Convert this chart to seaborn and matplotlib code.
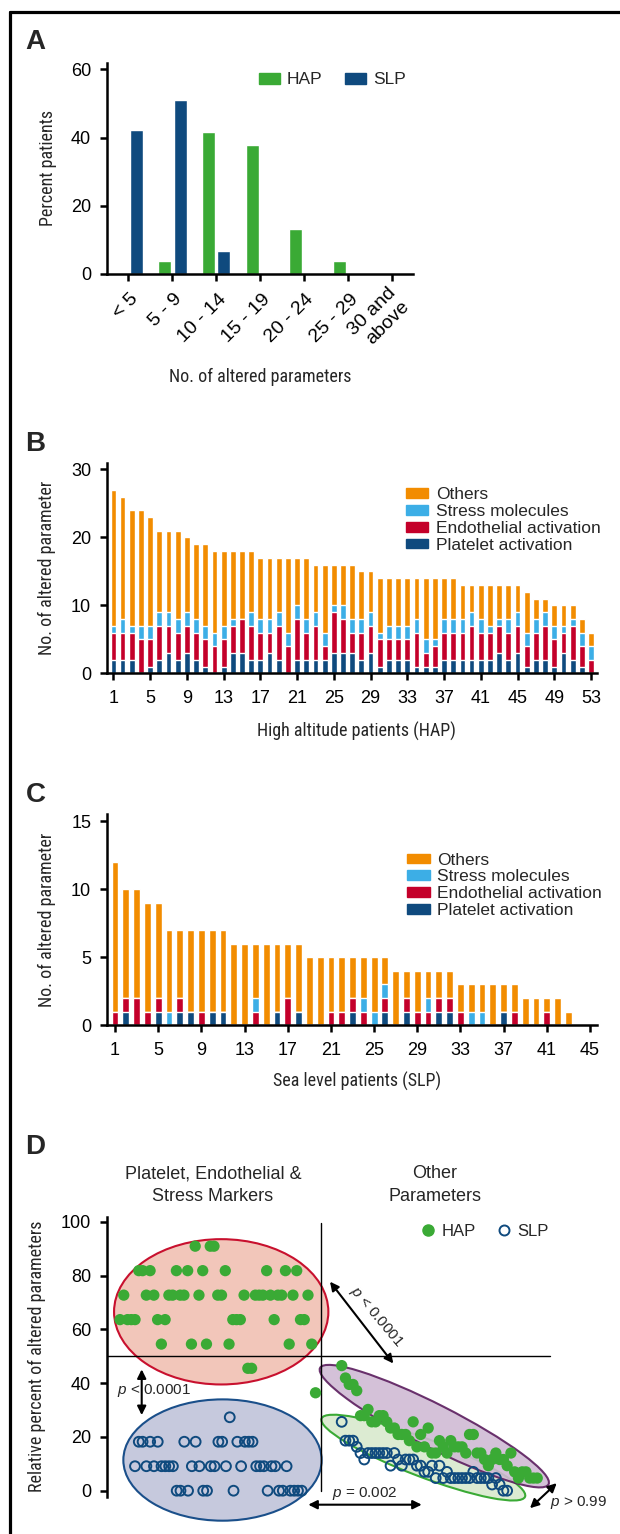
import numpy as np
import pandas as pd
import matplotlib
matplotlib.use("Agg")
import matplotlib.pyplot as plt
import matplotlib.transforms as mtransforms
from matplotlib import font_manager as fm
from matplotlib.patches import Patch, Ellipse
from matplotlib.lines import Line2D
import seaborn as sns

# ---------------- Panel A data ----------------
range_labels = ["< 5", "5 - 9", "10 - 14", "15 - 19", "20 - 24", "25 - 29", "30 and\nabove"]
hap_pct = [0.0, 3.8, 41.5, 37.7, 13.2, 3.8, 0.0]
slp_pct = [42.2, 51.1, 6.7, 0.0, 0.0, 0.0, 0.0]

# ---------------- Panel B data (53 high altitude patients) ----------------
hap_platelet = [2, 2, 2, 0, 1, 2, 3, 2, 3, 2, 1, 0, 1, 3, 3, 2, 2, 3, 2, 0,
                2, 2, 2, 2, 3, 3, 3, 2, 3, 1, 2, 2, 2, 1, 1, 1, 2, 2, 2, 2,
                2, 2, 3, 2, 3, 1, 2, 2, 1, 3, 2, 1, 0]
hap_endothelial = [4, 4, 4, 5, 4, 5, 4, 4, 4, 4, 4, 4, 4, 4, 5, 5, 4, 3, 5, 4,
                   6, 4, 5, 2, 6, 5, 3, 4, 4, 4, 3, 3, 3, 5, 2, 3, 4, 4, 4, 5,
                   4, 4, 4, 4, 4, 3, 4, 5, 4, 3, 5, 3, 2]
hap_stress = [1, 2, 1, 2, 2, 2, 2, 2, 2, 2, 2, 2, 2, 1, 0, 2, 2, 2, 2, 2,
              2, 2, 2, 2, 1, 2, 2, 2, 2, 1, 2, 2, 2, 2, 2, 1, 2, 2, 2, 2,
              2, 1, 1, 2, 2, 2, 2, 2, 2, 1, 1, 2, 2]
hap_others = [20, 18, 17, 17, 16, 12, 12, 13, 11, 11, 12, 12, 11, 10, 10, 9, 9, 9, 8, 11,
              7, 9, 7, 10, 6, 6, 8, 7, 6, 8, 7, 7, 7, 6, 9, 9, 6, 6, 5, 4,
              5, 6, 5, 5, 4, 6, 3, 2, 3, 3, 2, 2, 2]

# ---------------- Panel C data (sea level patients, 43 with altered values) ----------------
slp_platelet = [0, 1, 0, 0, 1, 0, 1, 1, 0, 1, 1, 0, 0, 0, 0, 1, 0, 1, 0, 0,
                0, 0, 1, 0, 0, 1, 0, 1, 0, 0, 1, 1, 0, 0, 0, 0, 1, 0, 0, 0,
                0, 0, 0]
slp_endothelial = [1, 1, 2, 1, 1, 0, 1, 0, 1, 0, 0, 0, 0, 1, 0, 0, 2, 0, 0, 0,
                   1, 1, 1, 1, 0, 1, 0, 1, 1, 1, 1, 1, 1, 0, 0, 0, 0, 1, 0, 0,
                   1, 0, 0]
slp_stress = [0, 0, 0, 0, 0, 1, 0, 0, 0, 0, 0, 0, 0, 1, 0, 0, 0, 0, 0, 0,
              0, 0, 0, 1, 1, 1, 0, 0, 0, 1, 0, 0, 0, 1, 1, 0, 0, 0, 0, 0,
              0, 0, 0]
slp_others = [11, 8, 8, 8, 7, 6, 5, 6, 6, 6, 6, 6, 6, 4, 6, 5, 4, 5, 5, 5,
              4, 4, 3, 3, 4, 2, 4, 2, 3, 2, 2, 2, 2, 2, 2, 3, 2, 2, 2, 2,
              1, 2, 1]

# ---------------- Panel D data (relative percent) ----------------
hap_marker_pct = [63.6, 72.7, 63.6, 63.6, 63.6, 81.8, 81.8, 72.7, 81.8, 72.7,
                  63.6, 54.5, 63.6, 72.7, 72.7, 81.8, 72.7, 72.7, 81.8, 54.5,
                  90.9, 72.7, 81.8, 54.5, 90.9, 90.9, 72.7, 72.7, 81.8, 54.5,
                  63.6, 63.6, 63.6, 72.7, 45.5, 45.5, 72.7, 72.7, 72.7, 81.8,
                  72.7, 63.6, 72.7, 72.7, 81.8, 54.5, 72.7, 81.8, 63.6, 63.6,
                  72.7, 54.5, 36.4]
hap_other_pct = [46.5, 41.9, 39.5, 39.5, 37.2, 27.9, 27.9, 30.2, 25.6, 25.6,
                 27.9, 27.9, 25.6, 23.3, 23.3, 20.9, 20.9, 20.9, 18.6, 25.6,
                 16.3, 20.9, 16.3, 23.3, 14.0, 14.0, 18.6, 16.3, 14.0, 18.6,
                 16.3, 16.3, 16.3, 14.0, 20.9, 20.9, 14.0, 14.0, 11.6, 9.3,
                 11.6, 14.0, 11.6, 11.6, 9.3, 14.0, 7.0, 4.7, 7.0, 7.0,
                 4.7, 4.7, 4.7]
slp_marker_pct = [9.1, 18.2, 18.2, 9.1, 18.2, 9.1, 18.2, 9.1, 9.1, 9.1,
                  9.1, 0.0, 0.0, 18.2, 0.0, 9.1, 18.2, 9.1, 0.0, 0.0,
                  9.1, 9.1, 18.2, 18.2, 9.1, 27.3, 0.0, 18.2, 9.1, 18.2,
                  18.2, 18.2, 9.1, 9.1, 9.1, 0.0, 9.1, 9.1, 0.0, 0.0,
                  9.1, 0.0, 0.0, 0.0, 0.0]
slp_other_pct = [25.6, 18.6, 18.6, 18.6, 16.3, 14.0, 11.6, 14.0, 14.0, 14.0,
                 14.0, 14.0, 14.0, 9.3, 14.0, 11.6, 9.3, 11.6, 11.6, 11.6,
                 9.3, 9.3, 7.0, 7.0, 9.3, 4.7, 9.3, 4.7, 7.0, 4.7,
                 4.7, 4.7, 4.7, 4.7, 4.7, 7.0, 4.7, 4.7, 4.7, 4.7,
                 2.3, 4.7, 2.3, 0.0, 0.0]

# ---------------- style ----------------
GREEN = "#3aaa35"
NAVY = "#0f4a7e"
ORANGE = "#f28c00"
LBLUE = "#3caee6"
RED = "#c4002a"

sns.set_style("ticks")
plt.rcParams["font.family"] = ["Liberation Sans", "DejaVu Sans"]
plt.rcParams["mathtext.fontset"] = "custom"
plt.rcParams["mathtext.rm"] = "Liberation Sans"
plt.rcParams["mathtext.it"] = "Liberation Sans:italic"
plt.rcParams["axes.linewidth"] = 1.8
plt.rcParams["axes.edgecolor"] = "black"
for a in ("xtick", "ytick"):
    plt.rcParams[f"{a}.major.size"] = 5.2
    plt.rcParams[f"{a}.major.width"] = 1.8
    plt.rcParams[f"{a}.major.pad"] = 6
    plt.rcParams[f"{a}.labelsize"] = 13
    plt.rcParams[f"{a}.color"] = "black"
    plt.rcParams[f"{a}.direction"] = "out"

# condensed font for axis titles, if one is installed
_names = {f.name for f in fm.fontManager.ttflist}
if "Liberation Sans Narrow" in _names:
    NARROW, LABEL_FS = ["Liberation Sans Narrow", "Liberation Sans"], 14
elif "Roboto Condensed" in _names:
    NARROW, LABEL_FS = ["Roboto Condensed", "Liberation Sans"], 13
else:
    NARROW, LABEL_FS = ["Liberation Sans", "DejaVu Sans"], 11.5

W, H = 620, 1534
fig = plt.figure(figsize=(W / 100, H / 100), dpi=100)


def box(l, t, r, b):
    return [l / W, 1 - b / H, (r - l) / W, (b - t) / H]


def fx(px):
    return px / W


def fy(py):
    return 1 - py / H


# frame
fig.add_artist(Line2D([fx(10), fx(10)], [0, fy(11.7)], transform=fig.transFigure, color="black", lw=2.3))
fig.add_artist(Line2D([fx(10), 1], [fy(11.7), fy(11.7)], transform=fig.transFigure, color="black", lw=2.3))

# panel letters
for letter, py in (("A", 41.7), ("B", 443.8), ("C", 795.3), ("D", 1147.5)):
    fig.text(fx(25.5), fy(py), letter, fontsize=20, fontweight="bold", ha="left", va="center")

# ================= Panel A =================
axA = fig.add_axes(box(106.7, 62.6, 413.2, 274))
dfA = pd.DataFrame({"range": range_labels * 2,
                    "group": ["HAP"] * len(range_labels) + ["SLP"] * len(range_labels),
                    "pct": hap_pct + slp_pct})
sns.barplot(data=dfA, x="range", y="pct", hue="group", order=range_labels,
            hue_order=["HAP", "SLP"], palette={"HAP": GREEN, "SLP": NAVY},
            width=0.72, gap=0.18, errorbar=None, saturation=1, legend=False, ax=axA)
axA.set_xlim(-0.49, 6.49)
axA.set_ylim(0, 62)
axA.set_yticks([0, 20, 40, 60])
axA.set_xticks(range(len(range_labels)))
axA.set_xticklabels(range_labels, rotation=45, ha="right", va="center_baseline",
                    rotation_mode="anchor", fontsize=14)
axA.tick_params(axis="x", pad=10)
_shift = mtransforms.ScaledTranslation(0.06, 0, fig.dpi_scale_trans)
for lab in axA.get_xticklabels():
    lab.set_transform(lab.get_transform() + _shift)
axA.set_ylabel("Percent patients", family=NARROW, fontsize=LABEL_FS, va="center")
axA.yaxis.set_label_coords((48.4 - 106.7) / (413.2 - 106.7), 0.5)
axA.set_xlabel("No. of altered parameters", family=NARROW, fontsize=LABEL_FS, va="center")
axA.xaxis.set_label_coords(0.5, -(377 - 274) / (274 - 62.6))
sns.despine(ax=axA)
fig.legend(handles=[Patch(color=GREEN), Patch(color=NAVY)], labels=["HAP", "SLP"],
           loc="center left", bbox_to_anchor=(fx(259), fy(80)), ncol=2, frameon=False,
           fontsize=12.5, handlelength=1.21, handleheight=0.54, handletextpad=0.38,
           columnspacing=1.32, borderpad=0, borderaxespad=0)


def stacked(ax, idx, plat, endo, stress, others):
    plat = np.asarray(plat)
    endo = np.asarray(endo)
    stress = np.asarray(stress)
    others = np.asarray(others)
    levels = [plat + endo + stress + others, plat + endo + stress, plat + endo, plat]
    colors = [ORANGE, LBLUE, RED, NAVY]
    for lv, c in zip(levels, colors):
        sns.barplot(x=idx, y=lv, native_scale=True, color=c, width=0.63,
                    errorbar=None, saturation=1, ax=ax)


cat_labels = ["Others", "Stress molecules", "Endothelial activation", "Platelet activation"]
cat_colors = [ORANGE, LBLUE, RED, NAVY]

# ================= Panel B =================
axB = fig.add_axes(box(106.7, 462.7, 596.7, 673.3))
idxB = np.arange(1, len(hap_others) + 1)
stacked(axB, idxB, hap_platelet, hap_endothelial, hap_stress, hap_others)
axB.set_xlim(0.27, 53.62)
axB.set_ylim(0, 31)
axB.set_yticks([0, 10, 20, 30])
axB.set_xticks(np.arange(1, 54, 4))
axB.set_xticklabels([str(v) for v in np.arange(1, 54, 4)])
axB.tick_params(axis="x", pad=7)
axB.set_ylabel("No. of altered parameter", family=NARROW, fontsize=LABEL_FS, va="center")
axB.yaxis.set_label_coords((46.7 - 106.7) / 490, 0.5)
axB.set_xlabel("High altitude patients (HAP)", family=NARROW, fontsize=LABEL_FS, va="center")
axB.xaxis.set_label_coords(0.51, -(731 - 673.3) / 210.6)
sns.despine(ax=axB)
fig.legend(handles=[Patch(color=c) for c in cat_colors], labels=cat_labels,
           loc="center left", bbox_to_anchor=(fx(406), fy(520)), frameon=False,
           fontsize=12.5, handlelength=1.28, handleheight=0.48, handletextpad=0.44,
           labelspacing=0.1, borderpad=0, borderaxespad=0)

# ================= Panel C =================
axC = fig.add_axes(box(106.7, 814.3, 596.7, 1025.3))
idxC = np.arange(1, len(slp_others) + 1)
stacked(axC, idxC, slp_platelet, slp_endothelial, slp_stress, slp_others)
axC.set_xlim(0.23, 45.62)
axC.set_ylim(0, 15.5)
axC.set_yticks([0, 5, 10, 15])
axC.set_xticks(np.arange(1, 46, 4))
axC.set_xticklabels([str(v) for v in np.arange(1, 46, 4)])
axC.tick_params(axis="x", pad=7)
axC.set_ylabel("No. of altered parameter", family=NARROW, fontsize=LABEL_FS, va="center")
axC.yaxis.set_label_coords((46.7 - 106.7) / 490, 0.5)
axC.set_xlabel("Sea level patients (SLP)", family=NARROW, fontsize=LABEL_FS, va="center")
axC.xaxis.set_label_coords(0.51, -(1081 - 1025.3) / 211)
sns.despine(ax=axC)
fig.legend(handles=[Patch(color=c) for c in cat_colors], labels=cat_labels,
           loc="center left", bbox_to_anchor=(fx(407.3), fy(885.3)), frameon=False,
           fontsize=12.5, handlelength=1.28, handleheight=0.48, handletextpad=0.44,
           labelspacing=0.1, borderpad=0, borderaxespad=0)

# ================= Panel D =================
KY = 2.69  # pixels per percent unit
Y0 = 1490.7
D_TOP, D_BOT, D_LEFT = 1215.0, 1530.0, 106.7
axD = fig.add_axes(box(D_LEFT, D_TOP, W, D_BOT))
axD.set_xlim(0, W - D_LEFT)
axD.set_ylim((Y0 - D_BOT) / KY, (Y0 - D_TOP) / KY)
pix = mtransforms.Affine2D().scale(1, 1 / KY) + axD.transData

ell_specs = [
    ((114.5, 66.5), 214.3, 145.3, 0, "#f2c6ba", "#c8102e", 1.0),
    ((115.8, 11.4), 198.3, 121.3, 0, "#c6c9dd", "#1a4f8a", 1.0),
    ((316.6, 12.3), 218.0, 38.0, -21.0, "#dcebd2", "#3aaa35", 1.0),
    ((327.6, 24.0), 256.4, 43.0, -27.0, "#d0bbd4", "#5b1d5e", 0.9),
]
for (cx, cy), w, h, ang, fc, ec, al in ell_specs:
    e = Ellipse((cx, cy * KY), w, h, angle=ang, transform=pix,
                facecolor=fc, edgecolor=ec, lw=1.5, alpha=al, zorder=1)
    axD.add_patch(e)

axD.plot([214, 214], [0, 99.6], color="black", lw=1.0, zorder=2)
axD.plot([0, 443.3], [50, 50], color="black", lw=1.0, zorder=2)

hap_left_x = np.linspace(13.3, 13.3 + 52 * 3.76, len(hap_marker_pct))
slp_left_x = np.linspace(28.3, 28.3 + 44 * 3.79, len(slp_marker_pct))
hap_right_x = np.linspace(235.0, 235.0 + 52 * 3.76, len(hap_other_pct))
slp_right_x = np.linspace(235.0, 235.0 + 44 * 3.76, len(slp_other_pct))

sns.scatterplot(x=np.concatenate([hap_left_x, hap_right_x]),
                y=np.concatenate([hap_marker_pct, hap_other_pct]),
                color=GREEN, s=66, linewidth=0, edgecolor="none", ax=axD, zorder=3)
sns.scatterplot(x=np.concatenate([slp_left_x, slp_right_x]),
                y=np.concatenate([slp_marker_pct, slp_other_pct]),
                facecolor="none", edgecolor=NAVY, linewidth=1.4, s=50, ax=axD, zorder=3)

axD.set_yticks([0, 20, 40, 60, 80, 100])
axD.set_xticks([])
axD.spines["left"].set_bounds(-2.2, 101.6)
for sp in ("top", "right", "bottom"):
    axD.spines[sp].set_visible(False)
axD.set_ylabel("Relative percent of altered parameters", family=NARROW, fontsize=LABEL_FS, va="center")
axD.yaxis.set_label_coords((36.7 - D_LEFT) / (W - D_LEFT), (D_BOT - 1356.7) / (D_BOT - D_TOP))

arrow = dict(arrowstyle="<|-|>", color="black", lw=1.5, mutation_scale=13, shrinkA=0, shrinkB=0)
axD.annotate("", xy=(35, 45.1), xytext=(35, 28.1), arrowprops=arrow, annotation_clip=False)
axD.annotate("", xy=(223.3, 77.7), xytext=(286.6, 47.3), arrowprops=arrow, annotation_clip=False)
axD.annotate("", xy=(201.6, -5.2), xytext=(315.0, -5.2), arrowprops=arrow, annotation_clip=False)
axD.annotate("", xy=(423.3, -6.5), xytext=(450.0, 2.8), arrowprops=arrow, annotation_clip=False)

pfs = 11
axD.text(10, 37.1, "$p$ < 0.0001", fontsize=pfs, ha="left", va="center", zorder=4)
axD.text(270, 64.7, "$p$ < 0.0001", fontsize=pfs, ha="center", va="center",
         rotation=-50, rotation_mode="anchor", zorder=4)
axD.text(258.3, -0.9, "$p$ = 0.002", fontsize=pfs, ha="center", va="center", zorder=4, clip_on=False)
axD.text(443.3, -4.4, "$p$ > 0.99", fontsize=pfs, ha="left", va="center", zorder=4, clip_on=False)

fig.text(fx(213), fy(1185), "Platelet, Endothelial &\nStress Markers", fontsize=13,
         ha="center", va="center", linespacing=1.45)
fig.text(fx(435), fy(1185), "Other\nParameters", fontsize=13,
         ha="center", va="center", linespacing=1.45)

fig.legend(handles=[Line2D([], [], marker="o", ls="", color=GREEN, markersize=8),
                    Line2D([], [], marker="o", ls="", markerfacecolor="none",
                           markeredgecolor=NAVY, markeredgewidth=1.4, markersize=7.2)],
           labels=["HAP", "SLP"], loc="center left", bbox_to_anchor=(fx(421.6), fy(1231.7)),
           ncol=2, frameon=False, fontsize=12, handlelength=0.8, handletextpad=0.4,
           columnspacing=1.3, borderpad=0, borderaxespad=0)

fig.savefig("out.png", dpi=100)
